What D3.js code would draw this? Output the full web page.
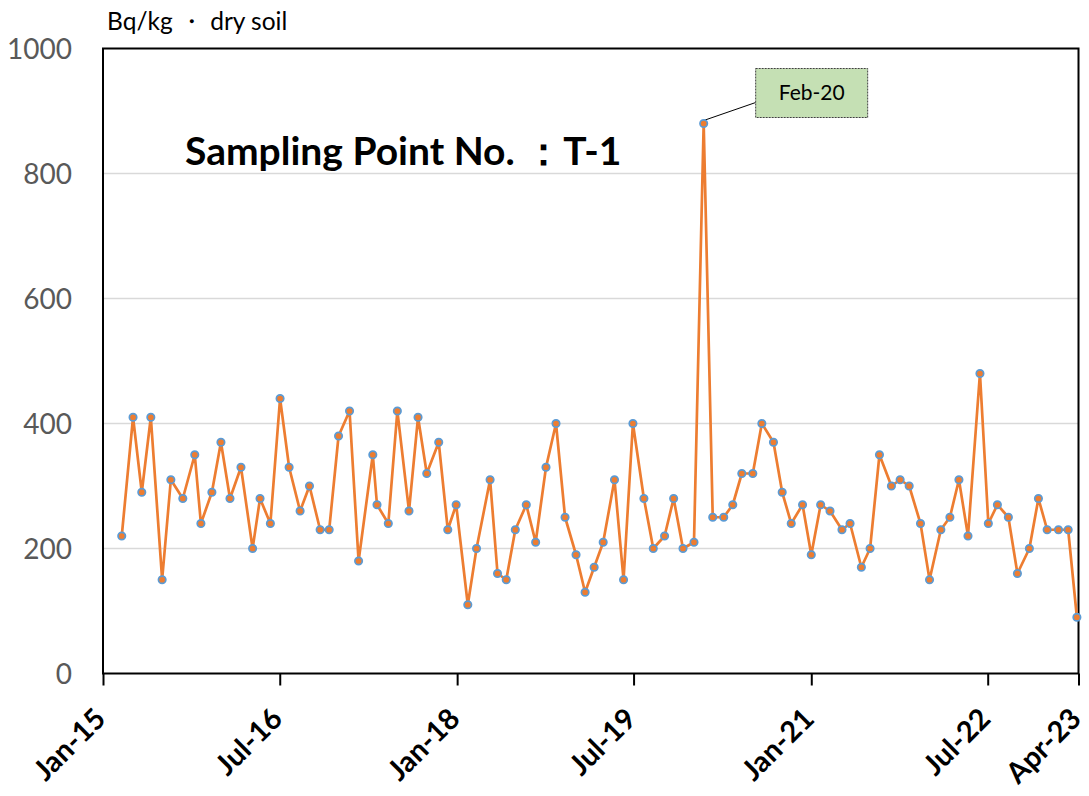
<!DOCTYPE html>
<html>
<head>
<meta charset="utf-8">
<script src="https://cdn.jsdelivr.net/npm/d3@7"></script>
<style>
  html, body { margin: 0; padding: 0; background: #fff; }
  svg { display: block; }
</style>
</head>
<body>
<svg id="chart" width="1089" height="796"></svg>
<script>
// ---- data ----
const sampleDates = [
  "2015-02-28","2015-04-04","2015-05-01","2015-05-29","2015-07-03","2015-07-30","2015-09-05","2015-10-12","2015-10-31","2015-12-04",
  "2016-01-01","2016-01-29","2016-03-03","2016-04-08","2016-05-01","2016-06-02","2016-07-02","2016-07-30","2016-09-02","2016-10-01",
  "2016-11-03","2016-12-01","2016-12-30","2017-02-02","2017-03-02","2017-04-15","2017-04-28","2017-06-02","2017-06-30","2017-08-05",
  "2017-09-02","2017-09-29","2017-11-05","2017-12-03","2017-12-29","2018-02-03","2018-03-02","2018-04-13","2018-05-06","2018-06-02",
  "2018-06-30","2018-08-03","2018-09-01","2018-10-03","2018-11-03","2018-12-01","2019-01-04","2019-02-01","2019-03-01","2019-03-29",
  "2019-05-03","2019-05-31","2019-06-29","2019-08-02","2019-08-31","2019-10-05","2019-11-02","2019-12-01","2020-01-04","2020-02-03",
  "2020-03-02","2020-04-05","2020-05-03","2020-05-31","2020-07-04","2020-08-01","2020-09-06","2020-10-03","2020-10-31","2020-12-05",
  "2021-01-01","2021-01-30","2021-02-28","2021-04-06","2021-05-01","2021-06-05","2021-07-02","2021-07-31","2021-09-06","2021-10-03",
  "2021-10-31","2021-12-05","2022-01-02","2022-02-06","2022-03-06","2022-04-03","2022-05-01","2022-06-07","2022-07-03","2022-07-31",
  "2022-09-03","2022-10-01","2022-11-07","2022-12-05","2023-01-01","2023-02-05","2023-03-07","2023-04-03"
];
const sampleValues = [
  220,410,290,410,150,310,280,350,240,290,
  370,280,330,200,280,240,440,330,260,300,
  230,230,380,420,180,350,270,240,420,260,
  410,320,370,230,270,110,200,310,160,150,
  230,270,210,330,400,250,190,130,170,210,
  310,150,400,280,200,220,280,200,210,880,
  250,250,270,320,320,400,370,290,240,270,
  190,270,260,230,240,170,200,350,300,310,
  300,240,150,230,250,310,220,480,240,270,
  250,160,200,280,230,230,230,90
];
const xTickDates  = ["2015-01-01","2016-07-01","2018-01-01","2019-07-01","2021-01-01","2022-07-01","2023-04-08"];
const xTickLabels = ["Jan-15","Jul-16","Jan-18","Jul-19","Jan-21","Jul-22","Apr-23"];
const yTicks = [0,200,400,600,800,1000];
const xDomain = ["2015-01-01","2023-04-08"];
const yDomain = [0,1000];
const titleText = "Sampling Point No. \uFF1AT-1";
const unitText = "Bq/kg \u30FB dry soil";
const calloutDate = "2020-02-03";
const calloutText = "Feb-20";

// ---- setup ----
const parse = d3.utcParse("%Y-%m-%d");
const data = sampleDates.map((d, i) => ({ date: parse(d), value: sampleValues[i] }));

const svg = d3.select("#chart");
const pLeft = 103, pRight = 1078.5, pTop = 48.5, pBottom = 673.5;
const FONT = "Lato, 'Open Sans', sans-serif";

const x = d3.scaleUtc().domain(xDomain.map(parse)).range([pLeft, pRight]);
const y = d3.scaleLinear().domain(yDomain).range([pBottom, pTop]);

// gridlines
svg.append("g")
  .selectAll("line")
  .data(yTicks.filter(t => t > 0 && t < 1000))
  .join("line")
  .attr("x1", pLeft).attr("x2", pRight)
  .attr("y1", d => y(d)).attr("y2", d => y(d))
  .attr("stroke", "#D9D9D9").attr("stroke-width", 1.5);

// y axis labels
const yAxis = d3.axisLeft(y).tickValues(yTicks).tickFormat(d3.format("d")).tickSize(0).tickPadding(31);
const gy = svg.append("g").attr("transform", `translate(${pLeft},0)`).call(yAxis);
gy.select(".domain").remove();
gy.selectAll("text")
  .attr("font-family", FONT)
  .attr("font-size", 28)
  .attr("fill", "#595959")
  .attr("dy", "0.36em");

// x axis
const xAxis = d3.axisBottom(x)
  .tickValues(xTickDates.map(parse))
  .tickFormat((d, i) => xTickLabels[i])
  .tickSize(12)
  .tickSizeOuter(0);
const gx = svg.append("g").attr("transform", `translate(0,${pBottom})`).call(xAxis);
gx.select(".domain").remove();
gx.selectAll(".tick line").attr("stroke", "#000").attr("stroke-width", 2);
gx.selectAll(".tick text")
  .attr("font-family", FONT)
  .attr("font-weight", "bold")
  .attr("font-size", 29)
  .attr("fill", "#000")
  .attr("text-anchor", "end")
  .attr("y", 0)
  .attr("dy", 0)
  .attr("transform", "translate(4,47) rotate(-45)");

// plot border
svg.append("rect")
  .attr("x", pLeft).attr("y", pTop)
  .attr("width", pRight - pLeft).attr("height", pBottom - pTop)
  .attr("fill", "none").attr("stroke", "#000").attr("stroke-width", 2);

// title & unit
svg.append("text")
  .attr("x", 185).attr("y", 165)
  .attr("font-family", FONT).attr("font-weight", "bold")
  .attr("font-size", 39).attr("fill", "#000")
  .text(titleText);
svg.append("text")
  .attr("x", 107).attr("y", 30)
  .attr("font-family", FONT)
  .attr("font-size", 24.5).attr("fill", "#000")
  .text(unitText);

// line
const line = d3.line().x(d => x(d.date)).y(d => y(d.value));
svg.append("path")
  .datum(data)
  .attr("d", line)
  .attr("fill", "none")
  .attr("stroke", "#ED7D31")
  .attr("stroke-width", 2.7)
  .attr("stroke-linejoin", "round");

// callout leader
const cp = data.find(d => +d.date === +parse(calloutDate));
const cx = x(cp.date), cy = y(cp.value);
const bx = cx + 52, by = cy - 55, bw = 112, bh = 49;
svg.append("line")
  .attr("x1", cx).attr("y1", cy - 3)
  .attr("x2", bx).attr("y2", by + 34)
  .attr("stroke", "#000").attr("stroke-width", 1);

// markers
svg.append("g")
  .selectAll("circle")
  .data(data)
  .join("circle")
  .attr("cx", d => x(d.date))
  .attr("cy", d => y(d.value))
  .attr("r", 3.7)
  .attr("fill", "#ED7D31")
  .attr("stroke", "#5B9BD5")
  .attr("stroke-width", 1.7);

// callout box
svg.append("rect")
  .attr("x", bx).attr("y", by).attr("width", bw).attr("height", bh)
  .attr("fill", "#C5E0B4")
  .attr("stroke", "#404040").attr("stroke-width", 1)
  .attr("stroke-dasharray", "2,1");
svg.append("text")
  .attr("x", bx + bw / 2).attr("y", by + bh / 2)
  .attr("dy", "0.35em")
  .attr("text-anchor", "middle")
  .attr("font-family", FONT).attr("font-size", 21).attr("fill", "#000")
  .text(calloutText);
</script>
</body>
</html>
